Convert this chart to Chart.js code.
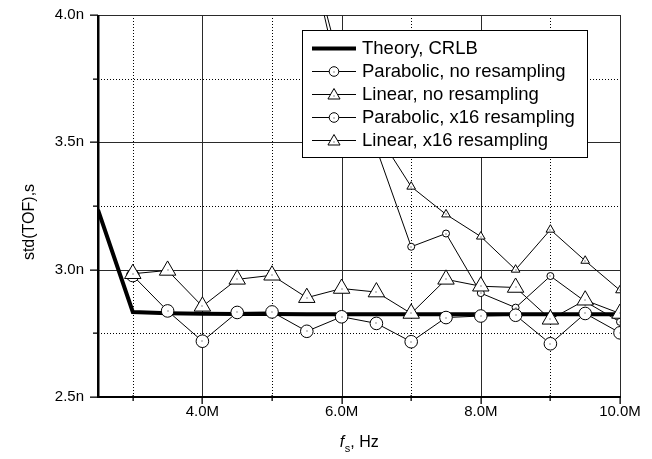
<!DOCTYPE html>
<html><head><meta charset="utf-8">
<script src="https://cdn.jsdelivr.net/npm/chart.js@4"></script>
<style>html,body{margin:0;padding:0;background:#fff;}canvas{display:block;}</style>
</head><body>
<canvas id="c" width="652" height="459"></canvas>
<script>
// ---- data (x in MHz, y in ns) ----
const fsMHz          = [2.5, 3.0, 3.5, 4.0, 4.5, 5.0, 5.5, 6.0, 6.5, 7.0, 7.5, 8.0, 8.5, 9.0, 9.5, 10.0];
const theoryCRLB     = [3.235, 2.834, 2.829, 2.827, 2.826, 2.826, 2.825, 2.825, 2.825, 2.825, 2.825, 2.825, 2.825, 2.825, 2.825, 2.825];
const parabolicNoRes = [null, null, null, null, null, null, 4.30, 3.70, 3.476, 3.090, 3.142, 2.908, 2.851, 2.975, 2.875, 2.795];
const linearNoRes    = [null, null, null, null, null, null, 4.30, 3.78, 3.54, 3.326, 3.217, 3.130, 3.000, 3.157, 3.035, 2.919];
const parabolicX16   = [null, 2.977, 2.838, 2.719, 2.832, 2.834, 2.758, 2.815, 2.789, 2.717, 2.812, 2.818, 2.821, 2.709, 2.828, 2.752];
const linearX16      = [null, 2.984, 2.997, 2.856, 2.962, 2.978, 2.890, 2.926, 2.912, 2.828, 2.962, 2.935, 2.930, 2.805, 2.880, 2.828];
const seriesLabels   = ['Theory, CRLB', 'Parabolic, no resampling', 'Linear, no resampling', 'Parabolic, x16 resampling', 'Linear, x16 resampling'];
const xMajorTicks = [4, 6, 8, 10];
const xMinorTicks = [3, 5, 7, 9];
const yMajorTicks = [2.5, 3.0, 3.5, 4.0];
const yMinorTicks = [2.75, 3.25, 3.75];
const yTitle = 'std(TOF),s';
const xTitleVar = 'f', xTitleSub = 's', xTitleRest = ', Hz';

const FONT = '"Liberation Sans", Arial, Helvetica, sans-serif';
Chart.defaults.font.family = FONT;
Chart.defaults.color = '#000';

function pts(arr) { return fsMHz.map((x, i) => ({ x: x, y: arr[i] })); }

const markerStyles = [
  null,
  { style: 'circle', r: 3.5, lr: 4.8 },
  { style: 'triangle', r: 5, lr: 7 },
  { style: 'circle', r: 6.3, lr: 4.8 },
  { style: 'triangle', r: 9.5, lr: 7 }
];

function drawMarker(ctx, style, r, x, y) {
  ctx.beginPath();
  if (style === 'circle') {
    ctx.arc(x, y, r, 0, Math.PI * 2);
  } else {
    let rad = 0;
    ctx.moveTo(x + Math.sin(rad) * r, y - Math.cos(rad) * r);
    rad += 2 * Math.PI / 3;
    ctx.lineTo(x + Math.sin(rad) * r, y - Math.cos(rad) * r);
    rad += 2 * Math.PI / 3;
    ctx.lineTo(x + Math.sin(rad) * r, y - Math.cos(rad) * r);
    ctx.closePath();
  }
  ctx.fillStyle = '#fff'; ctx.fill();
  ctx.strokeStyle = '#000'; ctx.lineWidth = 1; ctx.stroke();
  ctx.fillStyle = '#222'; ctx.fillRect(Math.round(x) - 0.5, Math.round(y) - 0.5, 1, 1);
}

function hline(ctx, x1, x2, yy) { ctx.beginPath(); ctx.moveTo(x1, yy); ctx.lineTo(x2, yy); ctx.stroke(); }
function vline(ctx, xx, y1, y2) { ctx.beginPath(); ctx.moveTo(xx, y1); ctx.lineTo(xx, y2); ctx.stroke(); }

const decor = {
  id: 'decor',
  beforeDatasetsDraw(chart) {
    const { ctx, chartArea: a, scales: { x, y } } = chart;
    ctx.save();
    ctx.lineWidth = 1;
    ctx.strokeStyle = '#000';
    ctx.setLineDash([1, 2]);
    xMinorTicks.forEach(v => vline(ctx, Math.round(x.getPixelForValue(v)) + 0.5, a.top, a.bottom));
    yMinorTicks.forEach(v => hline(ctx, a.left, a.right, Math.round(y.getPixelForValue(v)) + 0.5));
    ctx.setLineDash([]);
    ctx.strokeStyle = '#2a2a2a';
    xMajorTicks.forEach(v => vline(ctx, Math.round(x.getPixelForValue(v)) + 0.5, a.top, a.bottom));
    yMajorTicks.forEach(v => hline(ctx, a.left, a.right, Math.round(y.getPixelForValue(v)) + 0.5));
    ctx.restore();
  },
  afterDatasetDraw(chart, args) {
    const i = args.index;
    if (!markerStyles[i]) return;
    const { ctx, chartArea: a } = chart;
    ctx.save();
    ctx.fillStyle = '#222';
    args.meta.data.forEach(pt => {
      if (pt.skip) return;
      if (pt.x < a.left || pt.x > a.right || pt.y < a.top || pt.y > a.bottom) return;
      ctx.fillRect(Math.round(pt.x) - 0.5, Math.round(pt.y) - 0.5, 1, 1);
    });
    ctx.restore();
  },
  afterDraw(chart) {
    const { ctx, chartArea: a, scales: { x, y } } = chart;
    ctx.save();
    ctx.setLineDash([]);
    ctx.globalAlpha = 1;
    // axes (left and bottom, thick black)
    ctx.fillStyle = '#000';
    const L = Math.round(a.left), B = Math.round(a.bottom), R = Math.round(a.right), T = Math.round(a.top);
    ctx.fillRect(L - 1, T, 2.5, B - T + 1);
    ctx.fillRect(L - 1, B - 1, R - L + 2, 2);
    // y ticks
    yMajorTicks.forEach(v => { const p = Math.round(y.getPixelForValue(v)); ctx.fillRect(L - 8, p - 0.5, 8, 1.3); });
    yMinorTicks.forEach(v => { const p = Math.round(y.getPixelForValue(v)); ctx.fillRect(L - 5, p - 0.5, 5, 1.3); });
    // x ticks
    xMajorTicks.forEach(v => { const p = Math.round(x.getPixelForValue(v)); ctx.fillRect(p - 0.5, B, 1.3, 7); });
    xMinorTicks.forEach(v => { const p = Math.round(x.getPixelForValue(v)); ctx.fillRect(p - 0.5, B - 2, 1.3, 6); });

    // legend box
    const lx = 302.5, ly = 30.5, lw = 285, lh = 127;
    ctx.fillStyle = '#fff';
    ctx.fillRect(lx, ly, lw, lh);
    ctx.strokeStyle = '#000';
    ctx.lineWidth = 1;
    ctx.strokeRect(lx, ly, lw, lh);
    const rowY = [48, 71, 94, 117, 140];
    seriesLabels.forEach((t, i) => {
      const yy = rowY[i] + 0.5;
      ctx.strokeStyle = '#000';
      ctx.lineWidth = i === 0 ? 4 : 1;
      hline(ctx, 312, 356, yy);
      ctx.lineWidth = 1;
      if (markerStyles[i]) drawMarker(ctx, markerStyles[i].style, markerStyles[i].lr, 334, yy + (markerStyles[i].style === 'triangle' ? 1 : 0));
      ctx.fillStyle = '#000';
      ctx.font = '18.5px ' + FONT;
      ctx.textAlign = 'left';
      ctx.textBaseline = 'middle';
      ctx.fillText(t, 362, rowY[i] + 1);
    });

    // axis titles
    ctx.fillStyle = '#000';
    ctx.save();
    ctx.translate(30, 222);
    ctx.rotate(-Math.PI / 2);
    ctx.font = '16px ' + FONT;
    ctx.textAlign = 'center';
    ctx.textBaseline = 'middle';
    ctx.fillText(yTitle, 0, 0);
    ctx.restore();

    ctx.textAlign = 'left';
    ctx.textBaseline = 'alphabetic';
    const xc = (a.left + a.right) / 2;
    ctx.font = 'italic 16px ' + FONT;
    const w1 = ctx.measureText(xTitleVar).width;
    ctx.font = '11px ' + FONT;
    const w2 = ctx.measureText(xTitleSub).width;
    ctx.font = '16px ' + FONT;
    const w3 = ctx.measureText(xTitleRest).width;
    let sx = xc - (w1 + w2 + w3) / 2;
    const base = 447;
    ctx.font = 'italic 16px ' + FONT;
    ctx.fillText(xTitleVar, sx, base);
    sx += w1 + 0.5;
    ctx.font = '11px ' + FONT;
    ctx.fillText(xTitleSub, sx, base + 5);
    sx += w2;
    ctx.font = '16px ' + FONT;
    ctx.fillText(xTitleRest, sx, base);
    ctx.restore();
  }
};

function ds(i, arr, extra) {
  return Object.assign({
    label: seriesLabels[i],
    data: pts(arr),
    borderColor: '#000',
    borderWidth: 1,
    pointBackgroundColor: '#fff',
    pointBorderColor: '#000',
    pointBorderWidth: 1,
    pointHoverRadius: 0,
    tension: 0,
    spanGaps: false,
    fill: false
  }, extra);
}

new Chart(document.getElementById('c'), {
  type: 'line',
  data: {
    datasets: [
      ds(0, theoryCRLB, { borderWidth: 4, pointRadius: 0, order: 5, borderJoinStyle: 'miter' }),
      ds(1, parabolicNoRes, { pointStyle: 'circle', pointRadius: markerStyles[1].r, order: 4 }),
      ds(2, linearNoRes, { pointStyle: 'triangle', pointRadius: markerStyles[2].r, order: 3 }),
      ds(3, parabolicX16, { pointStyle: 'circle', pointRadius: markerStyles[3].r, order: 2 }),
      ds(4, linearX16, { pointStyle: 'triangle', pointRadius: markerStyles[4].r, order: 1 })
    ]
  },
  options: {
    responsive: false,
    animation: false,
    devicePixelRatio: 1,
    layout: { padding: { top: 14, right: 32, left: 0, bottom: 0 } },
    plugins: { legend: { display: false }, tooltip: { enabled: false } },
    events: [],
    scales: {
      x: {
        type: 'linear',
        min: 2.5, max: 10,
        afterBuildTicks: s => { s.ticks = xMajorTicks.map(v => ({ value: v })); },
        afterFit: s => { s.height = 62; },
        ticks: { callback: v => v.toFixed(1) + 'M', font: { size: 15 }, padding: 0, maxRotation: 0, autoSkip: false, color: '#000' },
        grid: { display: true, drawOnChartArea: false, drawTicks: true, tickLength: 6, tickColor: 'rgba(0,0,0,0)', color: 'rgba(0,0,0,0)' },
        border: { display: false }
      },
      y: {
        type: 'linear',
        min: 2.5, max: 4.0,
        afterBuildTicks: s => { s.ticks = yMajorTicks.map(v => ({ value: v })); },
        afterFit: s => { s.width = 98; },
        ticks: { callback: v => v.toFixed(1) + 'n', font: { size: 15 }, padding: 6, autoSkip: false, color: '#000' },
        grid: { display: true, drawOnChartArea: false, drawTicks: true, tickLength: 8, tickColor: 'rgba(0,0,0,0)', color: 'rgba(0,0,0,0)' },
        border: { display: false }
      }
    }
  },
  plugins: [decor]
});
</script>
</body></html>
